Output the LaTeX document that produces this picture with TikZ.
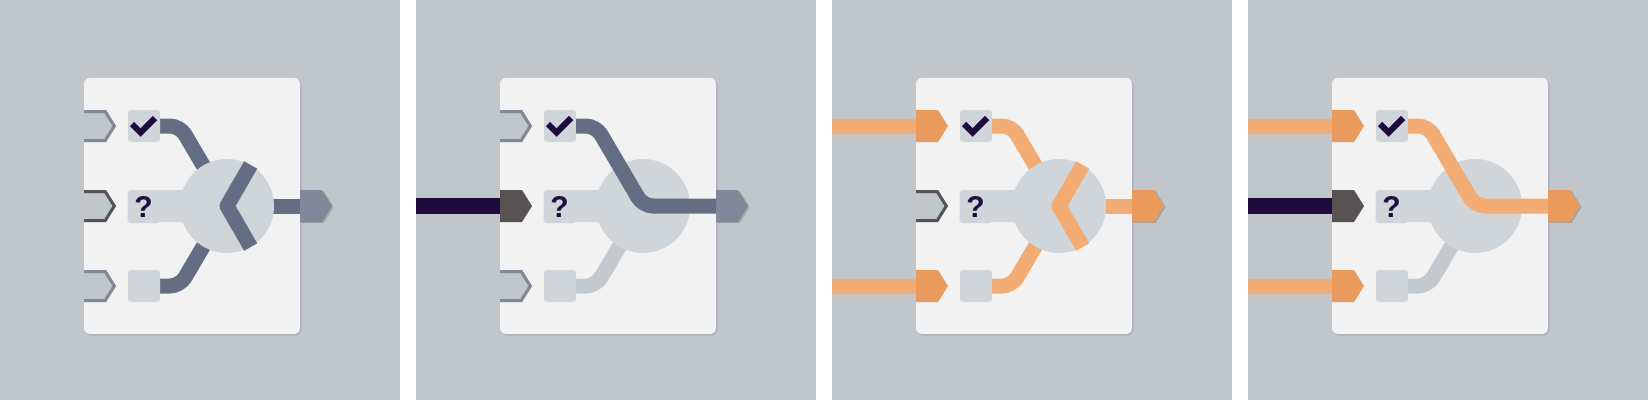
\documentclass[tikz,border=0pt]{standalone}
\usepackage{fontspec}
\setmainfont{Liberation Sans}

\definecolor{panelbg}{HTML}{C1C6CA}
\definecolor{cardbg}{HTML}{F2F2F2}
\definecolor{cardshadow}{HTML}{A9AEBA}
\definecolor{slotbg}{HTML}{D0D5DA}
\definecolor{wireoff}{HTML}{C4C9CD}
\definecolor{wiredark}{HTML}{646E82}
\definecolor{portdark}{HTML}{7F8799}
\definecolor{portgrey}{HTML}{575352}
\definecolor{wireorange}{HTML}{F2AC74}
\definecolor{portorange}{HTML}{EA9A5C}
\definecolor{ink}{HTML}{1E0A3C}

\pgfdeclarelayer{panels}
\pgfdeclarelayer{under}
\pgfdeclarelayer{over}
\pgfsetlayers{panels,under,main,over}

\tikzset{
  inport/.pic={\path[pic actions] (0,-16) -- (22,-16) -- (32,0) -- (22,16) -- (0,16) -- cycle;},
  portring/.pic={
    \fill[panelbg] (0,-16) -- (22,-16) -- (32,0) -- (22,16) -- (0,16) -- cycle;
    \path[pic actions, line width=3pt, line join=miter] (0,-14.5) -- (21.2,-14.5) -- (30.3,0) -- (21.2,14.5) -- (0,14.5);},
  outport/.pic={
    \fill[black, opacity=0.18] (1.5,-15) -- (23.5,-15) -- (33.5,1) -- (23.5,17) -- (1.5,17) -- cycle;
    \path[pic actions] (0,-16) -- (22,-16) -- (32,0) -- (22,16) -- (0,16) -- cycle;}
}

% card, hub and slots shared by every panel
\newcommand{\gatebase}{%
  \begin{pgfonlayer}{panels}
    \fill[panelbg] (0,0) rectangle (400,400);
    \fill[cardshadow, rounded corners=6pt] (85.5,79.5) rectangle (301.5,335.5);
    \fill[cardbg, rounded corners=6pt] (84,78) rectangle (300,334);
  \end{pgfonlayer}
  \coordinate (edgeT) at (0,126);
  \coordinate (edgeM) at (0,206);
  \coordinate (edgeB) at (0,286);
  \coordinate (inT) at (84,126);
  \coordinate (inM) at (84,206);
  \coordinate (inB) at (84,286);
  \coordinate (kneeT) at (180,126);
  \coordinate (kneeB) at (180,286);
  \coordinate (out) at (300,206);
  \fill[slotbg, rounded corners=3pt] (128,190) rectangle (205,222);
  \node[hub] (hub) at (227,206) {};
  \node[slot] (chk) at (144,126) {};
  \node[slot] (qm) at (143.5,207) {\bfseries\fontsize{30}{30}\selectfont ?};
  \node[slot] (emp) at (144,286) {};
  \draw[tick] (132,124) -- (140.5,132.5) -- (155,118);
}

\begin{document}
\begin{tikzpicture}[
    x=1pt, y=-1pt,
    slot/.style={rectangle, fill=slotbg, rounded corners=3pt, minimum size=32pt, inner sep=0pt, text=ink},
    hub/.style={circle, fill=slotbg, minimum size=94pt, inner sep=0pt},
    wire/.style={line width=15pt, rounded corners=10pt},
    lead/.style={line width=15pt},
    chevron/.style={line width=15pt, sharp corners, line join=round},
    tick/.style={draw=ink, line width=6pt, line join=miter}
]

\begin{pgfonlayer}{panels}
  \fill[white] (0,0) rectangle (1648,400);
\end{pgfonlayer}
\useasboundingbox (0,0) rectangle (1648,400);

% panel 1
\begin{scope}
  \gatebase
  \begin{pgfonlayer}{under}
    \draw[wire, wiredark] (chk.east) -- (kneeT) -- (hub.center);
    \draw[wire, wiredark] (emp.east) -- (kneeB) -- (hub.center);
    \draw[wire, wiredark] (hub.center) -- (out);
  \end{pgfonlayer}
  \begin{pgfonlayer}{over}
    \draw[chevron, wiredark] ([shift={(-60:47.4)}]hub.center) -- (hub.center) -- ([shift={(60:47.4)}]hub.center);
  \end{pgfonlayer}
  \pic[draw=portdark] at (inT) {portring};
  \pic[draw=portgrey] at (inM) {portring};
  \pic[draw=portdark] at (inB) {portring};
  \pic[fill=portdark] at (out) {outport};
\end{scope}

% panel 2
\begin{scope}[xshift=416pt]
  \gatebase
  \begin{pgfonlayer}{panels}
    \draw[lead, ink, line width=16pt] (edgeM) -- (inM);
  \end{pgfonlayer}
  \begin{pgfonlayer}{under}
    \draw[wire, wireoff] (emp.east) -- (kneeB) -- (hub.center);
  \end{pgfonlayer}
  \begin{pgfonlayer}{over}
    \draw[wire, wiredark] (chk.east) -- (kneeT) -- (hub.center) -- (out);
  \end{pgfonlayer}
  \pic[draw=portdark] at (inT) {portring};
  \pic[fill=portgrey] at (inM) {inport};
  \pic[draw=portdark] at (inB) {portring};
  \pic[fill=portdark] at (out) {outport};
\end{scope}

% panel 3
\begin{scope}[xshift=832pt]
  \gatebase
  \begin{pgfonlayer}{panels}
    \draw[lead, wireorange] (edgeT) -- (inT);
    \draw[lead, wireorange] (edgeB) -- (inB);
  \end{pgfonlayer}
  \begin{pgfonlayer}{under}
    \draw[wire, wireorange] (chk.east) -- (kneeT) -- (hub.center);
    \draw[wire, wireorange] (emp.east) -- (kneeB) -- (hub.center);
    \draw[wire, wireorange] (hub.center) -- (out);
  \end{pgfonlayer}
  \begin{pgfonlayer}{over}
    \draw[chevron, wireorange] ([shift={(-60:47.4)}]hub.center) -- (hub.center) -- ([shift={(60:47.4)}]hub.center);
  \end{pgfonlayer}
  \pic[fill=portorange] at (inT) {inport};
  \pic[draw=portgrey] at (inM) {portring};
  \pic[fill=portorange] at (inB) {inport};
  \pic[fill=portorange] at (out) {outport};
\end{scope}

% panel 4
\begin{scope}[xshift=1248pt]
  \gatebase
  \begin{pgfonlayer}{panels}
    \draw[lead, wireorange] (edgeT) -- (inT);
    \draw[lead, ink, line width=16pt] (edgeM) -- (inM);
    \draw[lead, wireorange] (edgeB) -- (inB);
  \end{pgfonlayer}
  \begin{pgfonlayer}{under}
    \draw[wire, wireoff] (emp.east) -- (kneeB) -- (hub.center);
  \end{pgfonlayer}
  \begin{pgfonlayer}{over}
    \draw[wire, wireorange] (chk.east) -- (kneeT) -- (hub.center) -- (out);
  \end{pgfonlayer}
  \pic[fill=portorange] at (inT) {inport};
  \pic[fill=portgrey] at (inM) {inport};
  \pic[fill=portorange] at (inB) {inport};
  \pic[fill=portorange] at (out) {outport};
\end{scope}

\end{tikzpicture}
\end{document}
